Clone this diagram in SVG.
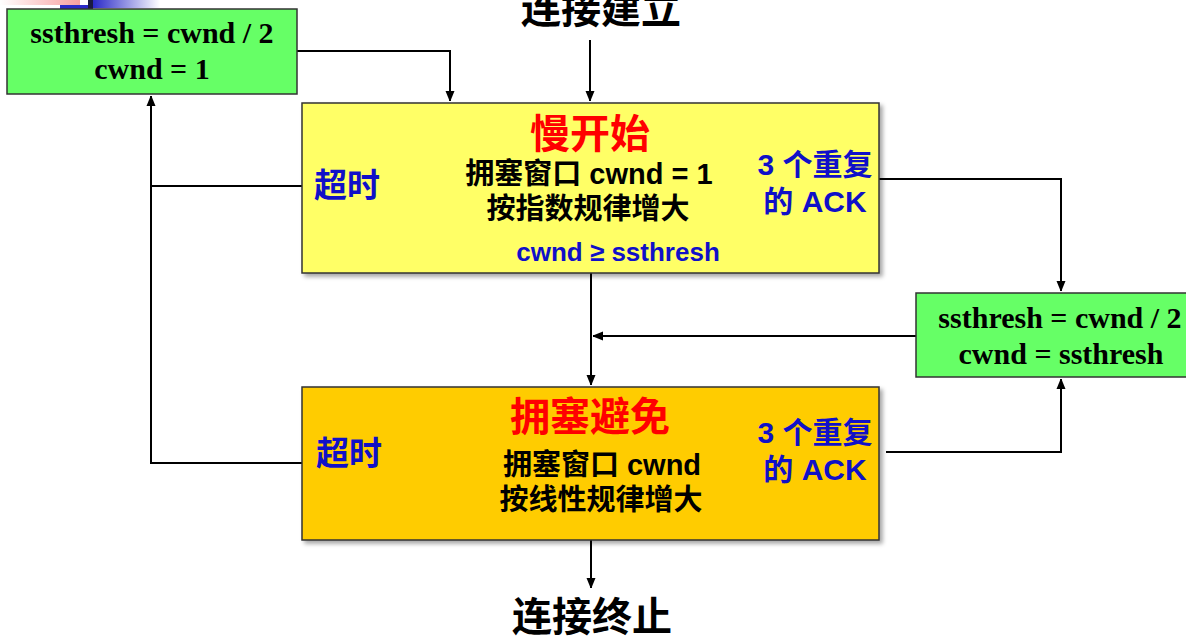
<svg xmlns="http://www.w3.org/2000/svg" width="1186" height="642" viewBox="0 0 1186 642">
<defs>
<marker id="ah" markerWidth="10" markerHeight="12" refX="10" refY="5" orient="auto" markerUnits="userSpaceOnUse"><path d="M0,0.5 L11,5 L0,9.5 Z" fill="#000"/></marker>
<linearGradient id="pk" x1="0" x2="1"><stop offset="0" stop-color="#fff"/><stop offset="1" stop-color="#f8a0a0"/></linearGradient>
<linearGradient id="bl" x1="0" x2="1"><stop offset="0" stop-color="#2a2ac8"/><stop offset="1" stop-color="#fff"/></linearGradient>
<filter id="sh" x="-5%" y="-5%" width="110%" height="115%"><feDropShadow dx="3" dy="3" stdDeviation="2" flood-color="#000" flood-opacity="0.35"/></filter>
</defs>
<style>
.ln{fill:none;stroke:#000;stroke-width:2}
.box{stroke:#333;stroke-width:1.5}
.ser{font-family:"Liberation Serif","Times New Roman",serif;font-weight:bold;font-size:30px;fill:#000;text-anchor:middle}
.cj{font-family:"Liberation Sans","Noto Sans CJK SC",sans-serif;font-weight:bold;text-anchor:middle}
.red{fill:#ff0000;font-size:40px}
.blk{fill:#000;font-size:29px}
.blu{fill:#1010c8;font-size:30px}
.ttl{fill:#000;font-size:40px}
</style>
<rect width="1186" height="642" fill="#fff"/>
<g id="deco">
<rect x="0" y="0" width="80" height="5" fill="url(#pk)"/>
<rect x="60" y="5" width="28" height="4" fill="#2a2ac8"/>
<rect x="88" y="0" width="5" height="9" fill="#1a1a40"/>
<rect x="93" y="0" width="67" height="8" fill="url(#bl)"/>
</g>
<g id="connectors">
<path class="ln" d="M297,51 H450 V101" marker-end="url(#ah)"/>
<path class="ln" d="M590,40 V101" marker-end="url(#ah)"/>
<path class="ln" d="M302,186 H151"/>
<path class="ln" d="M302,463 H151 V96" marker-end="url(#ah)"/>
<path class="ln" d="M879,179 H1061 V291" marker-end="url(#ah)"/>
<path class="ln" d="M591,273 V385" marker-end="url(#ah)"/>
<path class="ln" d="M916,336 H593" marker-end="url(#ah)"/>
<path class="ln" d="M886,452 H1061 V379" marker-end="url(#ah)"/>
<path class="ln" d="M591,540 V588" marker-end="url(#ah)"/>
</g>
<g id="start">
<text class="cj ttl" x="601" y="23">连接建立</text>
</g>
<g id="end">
<text class="cj ttl" x="592" y="631">连接终止</text>
</g>
<g id="timeout-reset">
<rect class="box" x="7" y="9" width="290" height="85" fill="#66ff66"/>
<text class="ser" x="152" y="43">ssthresh = cwnd / 2</text>
<text class="ser" x="152" y="79">cwnd = 1</text>
</g>
<g id="slow-start">
<rect class="box" x="302" y="103" width="577" height="170" fill="#ffff66" filter="url(#sh)"/>
<text class="cj red" x="590" y="148">慢开始</text>
<text class="cj blk" x="589" y="184">拥塞窗口 cwnd = 1</text>
<text class="cj blk" x="588" y="219">按指数规律增大</text>
<text class="cj blu" x="618" y="261" style="font-size:26px">cwnd ≥ ssthresh</text>
<text class="cj blu" x="347" y="197" style="font-size:33px">超时</text>
<text class="cj blu" x="815" y="175">3 个重复</text>
<text class="cj blu" x="815" y="212">的 ACK</text>
</g>
<g id="fast-recovery">
<rect class="box" x="916" y="293" width="272" height="84" fill="#66ff66"/>
<text class="ser" x="1060" y="328">ssthresh = cwnd / 2</text>
<text class="ser" x="1061" y="364">cwnd = ssthresh</text>
</g>
<g id="congestion-avoidance">
<rect class="box" x="302" y="387" width="577" height="153" fill="#ffcc00" filter="url(#sh)"/>
<text class="cj red" x="590" y="431">拥塞避免</text>
<text class="cj blk" x="602" y="475">拥塞窗口 cwnd</text>
<text class="cj blk" x="601" y="510">按线性规律增大</text>
<text class="cj blu" x="349" y="465" style="font-size:33px">超时</text>
<text class="cj blu" x="815" y="443">3 个重复</text>
<text class="cj blu" x="815" y="480">的 ACK</text>
</g>
</svg>
